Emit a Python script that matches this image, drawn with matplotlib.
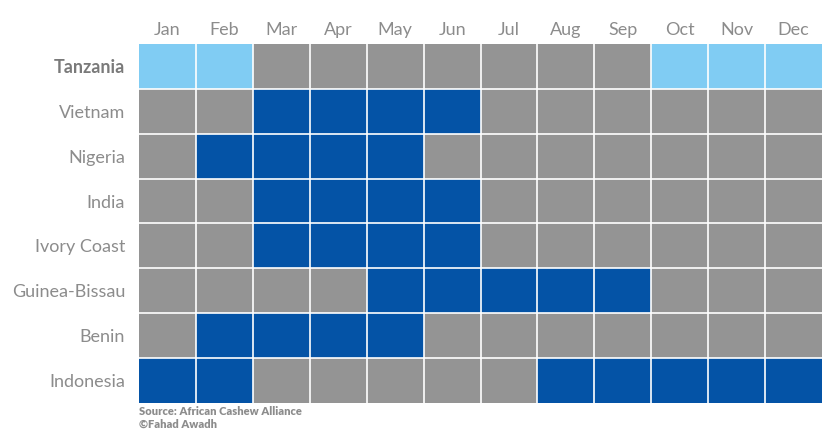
import matplotlib.pyplot as plt
from matplotlib.colors import ListedColormap
import numpy as np

plt.rcParams['font.family'] = ['Lato', 'DejaVu Sans']

months = ['Jan', 'Feb', 'Mar', 'Apr', 'May', 'Jun',
          'Jul', 'Aug', 'Sep', 'Oct', 'Nov', 'Dec']
countries = ['Tanzania', 'Vietnam', 'Nigeria', 'India', 'Ivory Coast',
             'Guinea-Bissau', 'Benin', 'Indonesia']

# 0 = off season, 1 = harvest season, 2 = Tanzania harvest season
tanzania = [2, 2, 0, 0, 0, 0, 0, 0, 0, 2, 2, 2]
vietnam = [0, 0, 1, 1, 1, 1, 0, 0, 0, 0, 0, 0]
nigeria = [0, 1, 1, 1, 1, 0, 0, 0, 0, 0, 0, 0]
india = [0, 0, 1, 1, 1, 1, 0, 0, 0, 0, 0, 0]
ivory_coast = [0, 0, 1, 1, 1, 1, 0, 0, 0, 0, 0, 0]
guinea_bissau = [0, 0, 0, 0, 1, 1, 1, 1, 1, 0, 0, 0]
benin = [0, 1, 1, 1, 1, 0, 0, 0, 0, 0, 0, 0]
indonesia = [1, 1, 0, 0, 0, 0, 0, 1, 1, 1, 1, 1]

grid = np.array([tanzania, vietnam, nigeria, india, ivory_coast,
                 guinea_bissau, benin, indonesia])

cmap = ListedColormap(['#949494', '#0453a6', '#80ccf3'])
text_color = '#8c8c8c'

fig = plt.figure(figsize=(8.25, 4.33), dpi=100)
ax = fig.add_axes([0.1685, 0.0693, 0.828, 0.8291])

ax.pcolormesh(grid, cmap=cmap, vmin=-0.5, vmax=2.5)
# thin white separators between cells
for x in range(1, 12):
    ax.axvline(x, color='white', linewidth=1.2)
for y in range(1, 8):
    ax.axhline(y, color='white', linewidth=1.2)
ax.set_xlim(0, 12)
ax.set_ylim(8, 0)

ax.set_xticks(np.arange(12) + 0.5)
ax.set_xticklabels(months)
ax.xaxis.tick_top()
ax.set_yticks(np.arange(8) + 0.5)
ax.set_yticklabels(countries)
ax.tick_params(length=0, labelsize=13, colors=text_color, pad=10)
ax.tick_params(axis='x', pad=4)
ax.get_yticklabels()[0].set_fontweight('bold')
ax.get_yticklabels()[0].set_color('#7a7a7a')

for spine in ax.spines.values():
    spine.set_visible(False)

fig.text(0.1685, 0.062, 'Source: African Cashew Alliance\n\u00a9Fahad Awadh',
         ha='left', va='top', fontsize=8, fontweight='heavy',
         color=text_color, linespacing=1.2)

plt.savefig('out.png')
